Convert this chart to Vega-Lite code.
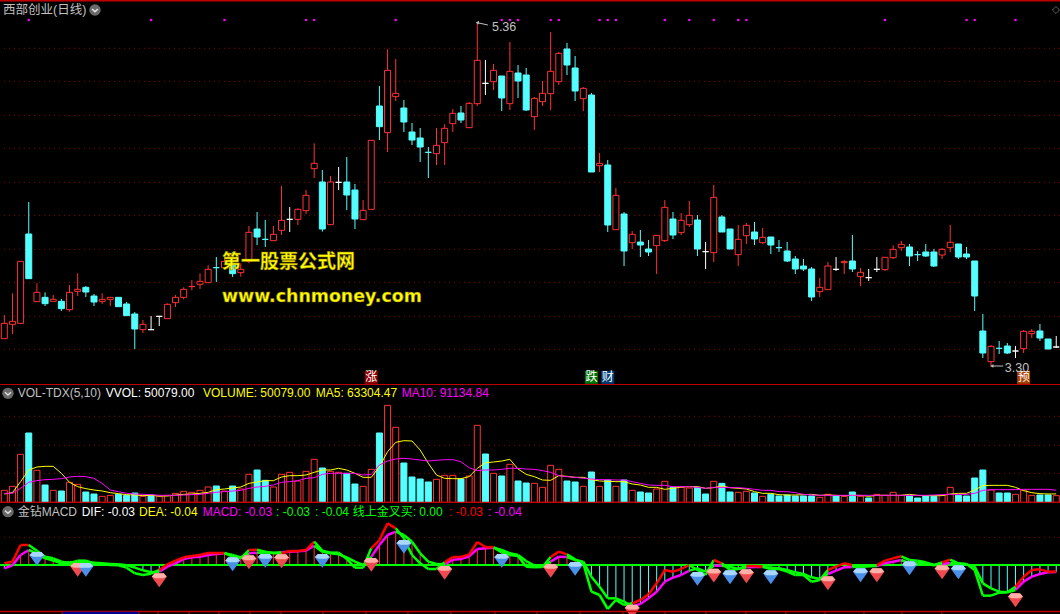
{"$schema":"https://vega.github.io/schema/vega-lite/v6.json","background":"#000000","padding":0,"autosize":{"type":"pad"},"bounds":"flush","spacing":0,"config":{"view":{"stroke":null},"concat":{"spacing":0}},
"datasets":{"bars":[
{"i":0,"k":"up","open":3.468,"close":3.56,"high":3.61,"low":3.468,"vol":90000,"vk":"up","m5":62500,"m10":67500,"dif":0.01,"dea":-0.02,"bull":1},
{"i":1,"k":"up","open":3.554,"close":3.572,"high":3.74,"low":3.496,"vol":120000,"vk":"up","m5":72500,"m10":67500,"dif":0.02,"dea":-0.002,"bull":1},
{"i":2,"k":"up","open":3.56,"close":3.932,"high":3.932,"low":3.56,"vol":360000,"vk":"up","m5":155000,"m10":105000,"dif":0.12,"dea":0.06,"bull":1},
{"i":3,"k":"down","open":4.096,"close":3.828,"high":4.288,"low":3.828,"vol":520000,"vk":"down","m5":242500,"m10":150000,"dif":0.12,"dea":0.09,"bull":0},
{"i":4,"k":"up","open":3.69,"close":3.746,"high":3.8,"low":3.69,"vol":240000,"vk":"up","m5":265000,"m10":162500,"dif":0.086,"dea":0.07,"bull":0},
{"i":5,"k":"down","open":3.716,"close":3.678,"high":3.746,"low":3.664,"vol":130000,"vk":"down","m5":270000,"m10":170000,"dif":0.05,"dea":0.04,"bull":0},
{"i":6,"k":"up","open":3.692,"close":3.704,"high":3.73,"low":3.692,"vol":90000,"vk":"up","m5":270000,"m10":172500,"dif":0.04,"dea":0.026,"bull":0},
{"i":7,"k":"down","open":3.692,"close":3.648,"high":3.706,"low":3.634,"vol":85000,"vk":"down","m5":217500,"m10":177500,"dif":0.02,"dea":0.01,"bull":0},
{"i":8,"k":"up","open":3.642,"close":3.746,"high":3.79,"low":3.63,"vol":150000,"vk":"up","m5":150000,"m10":190000,"dif":0.01,"dea":0.016,"bull":0},
{"i":9,"k":"up","open":3.752,"close":3.764,"high":3.86,"low":3.724,"vol":135000,"vk":"up","m5":117500,"m10":195000,"dif":0.026,"dea":0.018,"bull":0},
{"i":10,"k":"down","open":3.776,"close":3.748,"high":3.784,"low":3.718,"vol":77500,"vk":"down","m5":102500,"m10":192500,"dif":0.026,"dea":0.02,"bull":0},
{"i":11,"k":"down","open":3.724,"close":3.688,"high":3.736,"low":3.664,"vol":62500,"vk":"down","m5":92500,"m10":180000,"dif":0.01,"dea":0.014,"bull":0},
{"i":12,"k":"up","open":3.692,"close":3.704,"high":3.74,"low":3.676,"vol":45000,"vk":"up","m5":85000,"m10":142500,"dif":0.004,"dea":0.01,"bull":0},
{"i":13,"k":"up","open":3.704,"close":3.716,"high":3.716,"low":3.664,"vol":52500,"vk":"up","m5":72500,"m10":92500,"dif":0,"dea":0.006,"bull":0},
{"i":14,"k":"down","open":3.716,"close":3.66,"high":3.716,"low":3.66,"vol":60000,"vk":"down","m5":65000,"m10":80000,"dif":-0.002,"dea":0.004,"bull":0},
{"i":15,"k":"down","open":3.676,"close":3.606,"high":3.688,"low":3.606,"vol":52500,"vk":"down","m5":57500,"m10":67500,"dif":-0.016,"dea":-0.002,"bull":0},
{"i":16,"k":"down","open":3.616,"close":3.526,"high":3.628,"low":3.406,"vol":70000,"vk":"down","m5":55000,"m10":62500,"dif":-0.05,"dea":-0.016,"bull":0},
{"i":17,"k":"up","open":3.522,"close":3.554,"high":3.58,"low":3.502,"vol":45000,"vk":"up","m5":50000,"m10":60000,"dif":-0.06,"dea":-0.032,"bull":0},
{"i":18,"k":"flat","open":3.522,"close":3.522,"high":3.604,"low":3.522,"vol":55000,"vk":"down","m5":52500,"m10":57500,"dif":-0.052,"dea":-0.044,"bull":0},
{"i":19,"k":"flat","open":3.602,"close":3.602,"high":3.602,"low":3.544,"vol":45000,"vk":"up","m5":47500,"m10":52500,"dif":-0.03,"dea":-0.04,"bull":1},
{"i":20,"k":"up","open":3.588,"close":3.674,"high":3.68,"low":3.588,"vol":52500,"vk":"up","m5":47500,"m10":52500,"dif":0.004,"dea":-0.01,"bull":1},
{"i":21,"k":"up","open":3.684,"close":3.716,"high":3.73,"low":3.658,"vol":67500,"vk":"up","m5":55000,"m10":52500,"dif":0.026,"dea":0.01,"bull":1},
{"i":22,"k":"up","open":3.716,"close":3.764,"high":3.776,"low":3.704,"vol":82500,"vk":"up","m5":60000,"m10":55000,"dif":0.046,"dea":0.036,"bull":1},
{"i":23,"k":"up","open":3.78,"close":3.782,"high":3.82,"low":3.758,"vol":75000,"vk":"up","m5":62500,"m10":57500,"dif":0.054,"dea":0.046,"bull":1},
{"i":24,"k":"up","open":3.794,"close":3.812,"high":3.86,"low":3.766,"vol":90000,"vk":"up","m5":67500,"m10":60000,"dif":0.06,"dea":0.05,"bull":1},
{"i":25,"k":"up","open":3.804,"close":3.884,"high":3.908,"low":3.804,"vol":115000,"vk":"up","m5":75000,"m10":67500,"dif":0.072,"dea":0.06,"bull":1},
{"i":26,"k":"down","open":3.894,"close":3.894,"high":3.958,"low":3.808,"vol":122500,"vk":"down","m5":95000,"m10":75000,"dif":0.072,"dea":0.066,"bull":1},
{"i":27,"k":"up","open":3.894,"close":3.932,"high":3.96,"low":3.894,"vol":85000,"vk":"up","m5":100000,"m10":80000,"dif":0.072,"dea":0.07,"bull":0},
{"i":28,"k":"down","open":3.92,"close":3.858,"high":3.988,"low":3.838,"vol":122500,"vk":"down","m5":107500,"m10":85000,"dif":0.05,"dea":0.06,"bull":0},
{"i":29,"k":"up","open":3.864,"close":3.884,"high":3.92,"low":3.84,"vol":100000,"vk":"up","m5":115000,"m10":90000,"dif":0.04,"dea":0.046,"bull":0},
{"i":30,"k":"up","open":3.932,"close":4.106,"high":4.144,"low":3.92,"vol":210000,"vk":"up","m5":142500,"m10":105000,"dif":0.09,"dea":0.07,"bull":1},
{"i":31,"k":"down","open":4.126,"close":4.078,"high":4.228,"low":4.03,"vol":242500,"vk":"down","m5":152500,"m10":115000,"dif":0.092,"dea":0.074,"bull":0},
{"i":32,"k":"down","open":4.064,"close":4.064,"high":4.18,"low":4.018,"vol":165000,"vk":"down","m5":162500,"m10":120000,"dif":0.08,"dea":0.074,"bull":0},
{"i":33,"k":"up","open":4.056,"close":4.094,"high":4.144,"low":4.056,"vol":115000,"vk":"up","m5":162500,"m10":130000,"dif":0.07,"dea":0.074,"bull":0},
{"i":34,"k":"up","open":4.118,"close":4.178,"high":4.384,"low":4.09,"vol":210000,"vk":"up","m5":190000,"m10":150000,"dif":0.07,"dea":0.076,"bull":1},
{"i":35,"k":"flat","open":4.184,"close":4.184,"high":4.258,"low":4.108,"vol":225000,"vk":"up","m5":200000,"m10":155000,"dif":0.084,"dea":0.08,"bull":1},
{"i":36,"k":"up","open":4.184,"close":4.244,"high":4.25,"low":4.15,"vol":160000,"vk":"up","m5":200000,"m10":162500,"dif":0.084,"dea":0.082,"bull":1},
{"i":37,"k":"up","open":4.236,"close":4.328,"high":4.36,"low":4.216,"vol":232500,"vk":"up","m5":205000,"m10":180000,"dif":0.09,"dea":0.086,"bull":1},
{"i":38,"k":"up","open":4.488,"close":4.52,"high":4.64,"low":4.432,"vol":322500,"vk":"up","m5":225000,"m10":185000,"dif":0.14,"dea":0.116,"bull":0},
{"i":39,"k":"down","open":4.408,"close":4.126,"high":4.48,"low":4.11,"vol":257500,"vk":"down","m5":242500,"m10":210000,"dif":0.086,"dea":0.08,"bull":0},
{"i":40,"k":"up","open":4.152,"close":4.408,"high":4.444,"low":4.152,"vol":232500,"vk":"up","m5":242500,"m10":217500,"dif":0.074,"dea":0.07,"bull":0},
{"i":41,"k":"flat","open":4.406,"close":4.406,"high":4.498,"low":4.36,"vol":225000,"vk":"up","m5":255000,"m10":217500,"dif":0.074,"dea":0.064,"bull":0},
{"i":42,"k":"down","open":4.408,"close":4.33,"high":4.558,"low":4.24,"vol":217500,"vk":"down","m5":242500,"m10":217500,"dif":0.036,"dea":0.046,"bull":0},
{"i":43,"k":"down","open":4.36,"close":4.186,"high":4.396,"low":4.126,"vol":137500,"vk":"down","m5":217500,"m10":217500,"dif":-0.016,"dea":0.02,"bull":0},
{"i":44,"k":"up","open":4.182,"close":4.238,"high":4.3,"low":4.182,"vol":120000,"vk":"up","m5":187500,"m10":205000,"dif":-0.016,"dea":0,"bull":0},
{"i":45,"k":"up","open":4.244,"close":4.658,"high":4.658,"low":4.244,"vol":247500,"vk":"up","m5":187500,"m10":210000,"dif":0.1,"dea":0.05,"bull":1},
{"i":46,"k":"down","open":4.864,"close":4.74,"high":4.984,"low":4.66,"vol":520000,"vk":"down","m5":267500,"m10":280000,"dif":0.15,"dea":0.12,"bull":1},
{"i":47,"k":"up","open":4.704,"close":5.078,"high":5.204,"low":4.588,"vol":727500,"vk":"up","m5":380000,"m10":310000,"dif":0.25,"dea":0.18,"bull":1},
{"i":48,"k":"up","open":4.92,"close":4.94,"high":5.146,"low":4.894,"vol":562500,"vk":"up","m5":450000,"m10":325000,"dif":0.22,"dea":0.2,"bull":0},
{"i":49,"k":"down","open":4.852,"close":4.768,"high":4.9,"low":4.708,"vol":295000,"vk":"down","m5":462500,"m10":330000,"dif":0.16,"dea":0.18,"bull":0},
{"i":50,"k":"down","open":4.708,"close":4.66,"high":4.762,"low":4.63,"vol":190000,"vk":"down","m5":460000,"m10":325000,"dif":0.06,"dea":0.14,"bull":0},
{"i":51,"k":"down","open":4.672,"close":4.618,"high":4.732,"low":4.528,"vol":175000,"vk":"down","m5":392500,"m10":317500,"dif":0.01,"dea":0.07,"bull":0},
{"i":52,"k":"down","open":4.586,"close":4.586,"high":4.618,"low":4.432,"vol":152500,"vk":"down","m5":292500,"m10":310000,"dif":-0.024,"dea":0.02,"bull":0},
{"i":53,"k":"up","open":4.578,"close":4.628,"high":4.732,"low":4.51,"vol":172500,"vk":"up","m5":205000,"m10":315000,"dif":-0.024,"dea":0.006,"bull":0},
{"i":54,"k":"up","open":4.644,"close":4.73,"high":4.756,"low":4.51,"vol":202500,"vk":"up","m5":180000,"m10":320000,"dif":0.016,"dea":0.004,"bull":1},
{"i":55,"k":"up","open":4.758,"close":4.82,"high":4.846,"low":4.708,"vol":202500,"vk":"up","m5":177500,"m10":320000,"dif":0.048,"dea":0.032,"bull":1},
{"i":56,"k":"down","open":4.822,"close":4.78,"high":4.864,"low":4.762,"vol":175000,"vk":"down","m5":177500,"m10":305000,"dif":0.048,"dea":0.036,"bull":1},
{"i":57,"k":"up","open":4.734,"close":4.88,"high":4.888,"low":4.734,"vol":197500,"vk":"up","m5":192500,"m10":260000,"dif":0.064,"dea":0.052,"bull":1},
{"i":58,"k":"up","open":4.878,"close":5.138,"high":5.36,"low":4.864,"vol":577500,"vk":"up","m5":255000,"m10":237500,"dif":0.138,"dea":0.096,"bull":1},
{"i":59,"k":"flat","open":5,"close":5,"high":5.14,"low":4.93,"vol":362500,"vk":"down","m5":297500,"m10":242500,"dif":0.108,"dea":0.1,"bull":1},
{"i":60,"k":"up","open":5.01,"close":5.078,"high":5.116,"low":4.96,"vol":217500,"vk":"up","m5":302500,"m10":242500,"dif":0.106,"dea":0.104,"bull":0},
{"i":61,"k":"down","open":5.044,"close":4.912,"high":5.044,"low":4.834,"vol":197500,"vk":"down","m5":310000,"m10":247500,"dif":0.076,"dea":0.09,"bull":0},
{"i":62,"k":"up","open":4.878,"close":5.072,"high":5.248,"low":4.84,"vol":285000,"vk":"up","m5":322500,"m10":255000,"dif":0.06,"dea":0.07,"bull":0},
{"i":63,"k":"down","open":5.062,"close":5.014,"high":5.11,"low":4.912,"vol":160000,"vk":"down","m5":250000,"m10":255000,"dif":0.054,"dea":0.06,"bull":0},
{"i":64,"k":"down","open":5.05,"close":4.84,"high":5.092,"low":4.834,"vol":145000,"vk":"down","m5":210000,"m10":250000,"dif":-0.01,"dea":0.024,"bull":0},
{"i":65,"k":"up","open":4.8,"close":4.91,"high":4.918,"low":4.72,"vol":142500,"vk":"up","m5":192500,"m10":247500,"dif":-0.014,"dea":-0.004,"bull":0},
{"i":66,"k":"up","open":4.89,"close":4.94,"high":5.014,"low":4.864,"vol":112500,"vk":"up","m5":167500,"m10":237500,"dif":-0.012,"dea":-0.01,"bull":0},
{"i":67,"k":"up","open":4.938,"close":5.072,"high":5.308,"low":4.84,"vol":277500,"vk":"up","m5":165000,"m10":225000,"dif":0.048,"dea":0.02,"bull":1},
{"i":68,"k":"up","open":5.01,"close":5.18,"high":5.188,"low":4.99,"vol":247500,"vk":"up","m5":200000,"m10":200000,"dif":0.08,"dea":0.05,"bull":1},
{"i":69,"k":"down","open":5.206,"close":5.11,"high":5.242,"low":5.05,"vol":160000,"vk":"down","m5":195000,"m10":192500,"dif":0.064,"dea":0.048,"bull":0},
{"i":70,"k":"down","open":5.092,"close":4.954,"high":5.164,"low":4.894,"vol":152500,"vk":"down","m5":187500,"m10":187500,"dif":0.034,"dea":0.03,"bull":0},
{"i":71,"k":"up","open":4.908,"close":4.97,"high":4.978,"low":4.834,"vol":120000,"vk":"up","m5":187500,"m10":180000,"dif":0.01,"dea":0.02,"bull":0},
{"i":72,"k":"down","open":4.93,"close":4.468,"high":4.942,"low":4.468,"vol":227500,"vk":"down","m5":170000,"m10":175000,"dif":-0.16,"dea":-0.07,"bull":0},
{"i":73,"k":"up","open":4.506,"close":4.52,"high":4.582,"low":4.468,"vol":120000,"vk":"up","m5":160000,"m10":170000,"dif":-0.18,"dea":-0.13,"bull":0},
{"i":74,"k":"down","open":4.51,"close":4.15,"high":4.54,"low":4.108,"vol":167500,"vk":"down","m5":157500,"m10":170000,"dif":-0.264,"dea":-0.2,"bull":0},
{"i":75,"k":"up","open":4.122,"close":4.328,"high":4.372,"low":4.122,"vol":120000,"vk":"up","m5":155000,"m10":167500,"dif":-0.21,"dea":-0.2,"bull":0},
{"i":76,"k":"down","open":4.216,"close":3.994,"high":4.228,"low":3.904,"vol":167500,"vk":"down","m5":155000,"m10":167500,"dif":-0.24,"dea":-0.22,"bull":0},
{"i":77,"k":"up","open":4.044,"close":4.094,"high":4.114,"low":4.006,"vol":90000,"vk":"up","m5":137500,"m10":155000,"dif":-0.23,"dea":-0.25,"bull":1},
{"i":78,"k":"down","open":4.048,"close":4.03,"high":4.12,"low":3.958,"vol":77500,"vk":"down","m5":130000,"m10":142500,"dif":-0.21,"dea":-0.234,"bull":1},
{"i":79,"k":"down","open":4.006,"close":3.988,"high":4.06,"low":3.964,"vol":70000,"vk":"down","m5":112500,"m10":130000,"dif":-0.176,"dea":-0.2,"bull":1},
{"i":80,"k":"up","open":4.026,"close":4.088,"high":4.09,"low":3.856,"vol":100000,"vk":"up","m5":112500,"m10":127500,"dif":-0.11,"dea":-0.16,"bull":1},
{"i":81,"k":"up","open":4.056,"close":4.256,"high":4.3,"low":4.048,"vol":157500,"vk":"up","m5":97500,"m10":127500,"dif":-0.03,"dea":-0.1,"bull":1},
{"i":82,"k":"down","open":4.186,"close":4.09,"high":4.228,"low":4.066,"vol":112500,"vk":"down","m5":105000,"m10":117500,"dif":-0.04,"dea":-0.076,"bull":1},
{"i":83,"k":"up","open":4.104,"close":4.178,"high":4.222,"low":4.09,"vol":112500,"vk":"up","m5":115000,"m10":117500,"dif":-0.024,"dea":-0.06,"bull":1},
{"i":84,"k":"up","open":4.152,"close":4.208,"high":4.294,"low":4.138,"vol":107500,"vk":"up","m5":117500,"m10":117500,"dif":0,"dea":-0.034,"bull":0},
{"i":85,"k":"down","open":4.18,"close":4.006,"high":4.21,"low":3.964,"vol":112500,"vk":"down","m5":117500,"m10":112500,"dif":-0.03,"dea":-0.02,"bull":0},
{"i":86,"k":"flat","open":3.99,"close":3.99,"high":4.048,"low":3.886,"vol":62500,"vk":"down","m5":105000,"m10":105000,"dif":-0.06,"dea":-0.04,"bull":0},
{"i":87,"k":"up","open":3.984,"close":4.316,"high":4.39,"low":3.928,"vol":157500,"vk":"up","m5":110000,"m10":112500,"dif":0.03,"dea":-0.004,"bull":1},
{"i":88,"k":"down","open":4.198,"close":4.108,"high":4.21,"low":4.108,"vol":142500,"vk":"down","m5":122500,"m10":112500,"dif":0.01,"dea":-0.004,"bull":0},
{"i":89,"k":"down","open":4.126,"close":4.006,"high":4.126,"low":4.006,"vol":77500,"vk":"down","m5":110000,"m10":110000,"dif":-0.03,"dea":-0.01,"bull":0},
{"i":90,"k":"up","open":3.972,"close":4.064,"high":4.15,"low":3.904,"vol":75000,"vk":"up","m5":105000,"m10":110000,"dif":-0.024,"dea":-0.024,"bull":0},
{"i":91,"k":"up","open":4.086,"close":4.148,"high":4.162,"low":4.036,"vol":82500,"vk":"up","m5":100000,"m10":105000,"dif":-0.006,"dea":-0.014,"bull":1},
{"i":92,"k":"down","open":4.108,"close":4.066,"high":4.168,"low":4.03,"vol":70000,"vk":"down","m5":80000,"m10":97500,"dif":-0.006,"dea":-0.012,"bull":1},
{"i":93,"k":"up","open":4.044,"close":4.076,"high":4.132,"low":4.036,"vol":45000,"vk":"up","m5":67500,"m10":90000,"dif":-0.01,"dea":-0.012,"bull":0},
{"i":94,"k":"down","open":4.078,"close":4.03,"high":4.078,"low":3.976,"vol":60000,"vk":"down","m5":67500,"m10":90000,"dif":-0.026,"dea":-0.016,"bull":0},
{"i":95,"k":"down","open":4.014,"close":4.014,"high":4.06,"low":3.988,"vol":47500,"vk":"down","m5":57500,"m10":80000,"dif":-0.024,"dea":-0.02,"bull":0},
{"i":96,"k":"down","open":3.994,"close":3.934,"high":4.048,"low":3.928,"vol":55000,"vk":"down","m5":55000,"m10":80000,"dif":-0.04,"dea":-0.03,"bull":0},
{"i":97,"k":"down","open":3.946,"close":3.886,"high":3.964,"low":3.856,"vol":47500,"vk":"down","m5":55000,"m10":72500,"dif":-0.06,"dea":-0.044,"bull":0},
{"i":98,"k":"down","open":3.904,"close":3.886,"high":3.946,"low":3.874,"vol":47500,"vk":"down","m5":57500,"m10":60000,"dif":-0.06,"dea":-0.054,"bull":0},
{"i":99,"k":"down","open":3.886,"close":3.718,"high":3.898,"low":3.694,"vol":47500,"vk":"down","m5":60000,"m10":55000,"dif":-0.1,"dea":-0.074,"bull":0},
{"i":100,"k":"up","open":3.75,"close":3.776,"high":3.832,"low":3.718,"vol":37500,"vk":"up","m5":52500,"m10":52500,"dif":-0.09,"dea":-0.084,"bull":0},
{"i":101,"k":"up","open":3.762,"close":3.904,"high":3.928,"low":3.762,"vol":60000,"vk":"up","m5":55000,"m10":52500,"dif":-0.03,"dea":-0.054,"bull":1},
{"i":102,"k":"flat","open":3.884,"close":3.884,"high":3.958,"low":3.874,"vol":47500,"vk":"down","m5":52500,"m10":52500,"dif":-0.01,"dea":-0.034,"bull":1},
{"i":103,"k":"up","open":3.924,"close":3.93,"high":3.94,"low":3.856,"vol":45000,"vk":"up","m5":50000,"m10":52500,"dif":0.01,"dea":-0.014,"bull":1},
{"i":104,"k":"down","open":3.934,"close":3.886,"high":4.09,"low":3.868,"vol":77500,"vk":"down","m5":52500,"m10":52500,"dif":-0.002,"dea":-0.012,"bull":0},
{"i":105,"k":"up","open":3.84,"close":3.866,"high":3.892,"low":3.784,"vol":45000,"vk":"up","m5":52500,"m10":52500,"dif":-0.01,"dea":-0.008,"bull":0},
{"i":106,"k":"flat","open":3.834,"close":3.834,"high":3.886,"low":3.814,"vol":32500,"vk":"down","m5":45000,"m10":52500,"dif":-0.006,"dea":-0.008,"bull":0},
{"i":107,"k":"flat","open":3.884,"close":3.884,"high":3.958,"low":3.868,"vol":60000,"vk":"up","m5":52500,"m10":52500,"dif":-0.002,"dea":-0.006,"bull":1},
{"i":108,"k":"up","open":3.882,"close":3.956,"high":3.958,"low":3.874,"vol":52500,"vk":"up","m5":52500,"m10":52500,"dif":0.026,"dea":0.01,"bull":1},
{"i":109,"k":"up","open":3.954,"close":4.004,"high":4.028,"low":3.946,"vol":75000,"vk":"up","m5":52500,"m10":52500,"dif":0.04,"dea":0.02,"bull":1},
{"i":110,"k":"up","open":4.014,"close":4.034,"high":4.054,"low":3.994,"vol":52500,"vk":"up","m5":52500,"m10":52500,"dif":0.052,"dea":0.03,"bull":0},
{"i":111,"k":"down","open":4.018,"close":3.964,"high":4.036,"low":3.904,"vol":47500,"vk":"down","m5":60000,"m10":52500,"dif":0.03,"dea":0.01,"bull":0},
{"i":112,"k":"down","open":3.972,"close":3.972,"high":3.994,"low":3.934,"vol":32500,"vk":"down","m5":52500,"m10":52500,"dif":0.026,"dea":0.014,"bull":0},
{"i":113,"k":"down","open":3.988,"close":3.964,"high":4.036,"low":3.958,"vol":47500,"vk":"down","m5":50000,"m10":52500,"dif":0.016,"dea":0.008,"bull":0},
{"i":114,"k":"down","open":3.988,"close":3.904,"high":4.006,"low":3.898,"vol":45000,"vk":"down","m5":50000,"m10":55000,"dif":0,"dea":-0.002,"bull":0},
{"i":115,"k":"up","open":3.97,"close":4.004,"high":4.012,"low":3.946,"vol":52500,"vk":"up","m5":50000,"m10":57500,"dif":0.016,"dea":0.006,"bull":1},
{"i":116,"k":"up","open":4.014,"close":4.046,"high":4.15,"low":3.988,"vol":112500,"vk":"up","m5":62500,"m10":60000,"dif":0.032,"dea":0.012,"bull":0},
{"i":117,"k":"down","open":4.036,"close":3.958,"high":4.036,"low":3.946,"vol":52500,"vk":"down","m5":67500,"m10":60000,"dif":0.01,"dea":0.006,"bull":0},
{"i":118,"k":"down","open":3.976,"close":3.958,"high":4.018,"low":3.946,"vol":47500,"vk":"down","m5":67500,"m10":60000,"dif":0.006,"dea":0.004,"bull":0},
{"i":119,"k":"down","open":3.934,"close":3.724,"high":3.934,"low":3.634,"vol":182500,"vk":"down","m5":92500,"m10":67500,"dif":-0.03,"dea":-0.01,"bull":0},
{"i":120,"k":"down","open":3.514,"close":3.382,"high":3.616,"low":3.352,"vol":242500,"vk":"down","m5":125000,"m10":90000,"dif":-0.184,"dea":-0.11,"bull":0},
{"i":121,"k":"up","open":3.33,"close":3.422,"high":3.43,"low":3.3,"vol":92500,"vk":"up","m5":127500,"m10":95000,"dif":-0.184,"dea":-0.14,"bull":0},
{"i":122,"k":"down","open":3.41,"close":3.41,"high":3.454,"low":3.376,"vol":70000,"vk":"down","m5":127500,"m10":95000,"dif":-0.166,"dea":-0.16,"bull":0},
{"i":123,"k":"down","open":3.424,"close":3.382,"high":3.442,"low":3.376,"vol":70000,"vk":"down","m5":127500,"m10":95000,"dif":-0.164,"dea":-0.164,"bull":0},
{"i":124,"k":"flat","open":3.394,"close":3.394,"high":3.424,"low":3.352,"vol":60000,"vk":"up","m5":112500,"m10":95000,"dif":-0.13,"dea":-0.15,"bull":1},
{"i":125,"k":"up","open":3.408,"close":3.512,"high":3.52,"low":3.382,"vol":92500,"vk":"up","m5":87500,"m10":97500,"dif":-0.07,"dea":-0.1,"bull":1},
{"i":126,"k":"up","open":3.498,"close":3.512,"high":3.526,"low":3.472,"vol":52500,"vk":"up","m5":72500,"m10":97500,"dif":-0.03,"dea":-0.07,"bull":1},
{"i":127,"k":"down","open":3.514,"close":3.472,"high":3.556,"low":3.454,"vol":55000,"vk":"down","m5":65000,"m10":97500,"dif":-0.026,"dea":-0.054,"bull":1},
{"i":128,"k":"down","open":3.466,"close":3.406,"high":3.466,"low":3.406,"vol":55000,"vk":"down","m5":62500,"m10":97500,"dif":-0.04,"dea":-0.044,"bull":1},
{"i":129,"k":"flat","open":3.418,"close":3.418,"high":3.484,"low":3.412,"vol":50079,"vk":"up","m5":63304,"m10":91135,"dif":-0.04,"dea":-0.042,"bull":1}
],
"grid1":[{"p":5.21},{"p":5.012},{"p":4.808},{"p":4.61},{"p":4.406},{"p":4.208},{"p":4.004},{"p":3.806},{"p":3.602},{"p":3.404}],
"grid2":[{"v":645000},{"v":427500},{"v":217500}],
"dots":[{"i":3},{"i":18},{"i":27},{"i":37},{"i":38},{"i":48},{"i":61},{"i":62},{"i":63},{"i":67},{"i":68},{"i":73},{"i":74},{"i":75},{"i":81},{"i":84},{"i":87},{"i":90},{"i":91},{"i":108},{"i":118},{"i":119},{"i":124}],
"tags":[{"i":45,"t":"涨","kind":"rise"},{"i":72,"t":"跌","kind":"fall"},{"i":74,"t":"财","kind":"cash"},{"i":125,"t":"预","kind":"warn"}],
"notes1":[{"i":-0.16,"p":5.44,"t":"西部创业(日线)","c":"gray"},{"i":59.8,"p":5.34,"t":"5.36","c":"gray"},{"i":122.7,"p":3.294,"t":"3.30","c":"gray"}],
"marks1":[{"i":58,"i2":59.3,"a":5.364,"b":5.35},{"i":121.1,"i2":122.5,"a":3.304,"b":3.304}],
"notes2":[{"i":1.64,"t":"VOL-TDX(5,10)","c":"gray"},{"i":12.43,"t":"VVOL: 50079.00","c":"white"},{"i":24.37,"t":"VOLUME: 50079.00","c":"yellow"},{"i":38.19,"t":"MA5: 63304.47","c":"yellow"},{"i":48.73,"t":"MA10: 91134.84","c":"magenta"}],
"notes3":[{"i":1.64,"t":"金钻MACD","c":"gray"},{"i":9.49,"t":"DIF: -0.03","c":"white"},{"i":16.52,"t":"DEA: -0.04","c":"yellow"},{"i":24.33,"t":"MACD: -0.03","c":"magenta"},{"i":33.32,"t":": -0.03","c":"green"},{"i":38.1,"t":": -0.04","c":"green"},{"i":42.72,"t":"线上金叉买: 0.00","c":"green"},{"i":54.53,"t":": -0.03","c":"red"},{"i":59.31,"t":": -0.04","c":"magenta"}],
"gems":[{"i":4,"m":0.04,"kind":"blue"},{"i":9,"m":-0.026,"kind":"red"},{"i":10,"m":-0.026,"kind":"blue"},{"i":19,"m":-0.088,"kind":"red"},{"i":28,"m":0.008,"kind":"blue"},{"i":30,"m":0.02,"kind":"red"},{"i":32,"m":0.028,"kind":"blue"},{"i":34,"m":0.026,"kind":"red"},{"i":39,"m":0.028,"kind":"blue"},{"i":45,"m":0.004,"kind":"red"},{"i":49,"m":0.112,"kind":"blue"},{"i":54,"m":-0.044,"kind":"red"},{"i":61,"m":0.028,"kind":"blue"},{"i":67,"m":-0.032,"kind":"red"},{"i":70,"m":-0.02,"kind":"blue"},{"i":77,"m":-0.276,"kind":"red"},{"i":85,"m":-0.08,"kind":"blue"},{"i":87,"m":-0.06,"kind":"red"},{"i":89,"m":-0.07,"kind":"blue"},{"i":91,"m":-0.064,"kind":"red"},{"i":94,"m":-0.07,"kind":"blue"},{"i":101,"m":-0.106,"kind":"red"},{"i":105,"m":-0.058,"kind":"blue"},{"i":107,"m":-0.058,"kind":"red"},{"i":111,"m":-0.016,"kind":"blue"},{"i":115,"m":-0.04,"kind":"red"},{"i":117,"m":-0.04,"kind":"blue"},{"i":124,"m":-0.208,"kind":"red"}],
"ticks":[{"i":7.08},{"i":16.52},{"i":18.85},{"i":22.65},{"i":26.33},{"i":30.13},{"i":33.93},{"i":39.08},{"i":44.35},{"i":49.5},{"i":54.78},{"i":60.17},{"i":65.32},{"i":70.6},{"i":75.87},{"i":81.02},{"i":86.05},{"i":90.95},{"i":95.85},{"i":100.64},{"i":105.42},{"i":110.08},{"i":114.98}]
},
"vconcat":[
{"width":1060,"height":385,"resolve":{"scale":{"color":"independent","fill":"independent","stroke":"independent"}},"layer":[
{"data":{"name":"grid1"},"mark":{"type":"rule","clip":true,"color":"#8a0000","strokeDash":[1,4],"strokeWidth":1},"encoding":{"y":{"field":"p","type":"quantitative","scale":{"domain":[3.19,5.5],"nice":false,"zero":false},"axis":null}}},
{"data":{"values":[{"p":5.497}]},"mark":{"type":"rule","clip":true,"color":"#c00000","strokeWidth":2},"encoding":{"y":{"field":"p","type":"quantitative","scale":{"domain":[3.19,5.5],"nice":false,"zero":false},"axis":null}}},
{"data":{"values":[{"p":3.193}]},"mark":{"type":"rule","clip":true,"color":"#c00000","strokeWidth":1},"encoding":{"y":{"field":"p","type":"quantitative","scale":{"domain":[3.19,5.5],"nice":false,"zero":false},"axis":null}}},
{"data":{"name":"bars"},"mark":{"type":"rule","strokeWidth":1,"clip":true},"encoding":{"x":{"field":"i","type":"quantitative","scale":{"domain":[-0.527,129.46],"nice":false,"zero":false,"padding":0},"axis":null},"y":{"field":"high","type":"quantitative","scale":{"domain":[3.19,5.5],"nice":false,"zero":false},"axis":null},"y2":{"field":"low"},"color":{"field":"k","type":"nominal","legend":null,"scale":{"domain":["up","down","flat"],"range":["#ff3232","#54ffff","#ffffff"]}}}},
{"data":{"name":"bars"},"mark":{"type":"bar","size":6,"strokeWidth":1,"clip":true},"encoding":{"x":{"field":"i","type":"quantitative","scale":{"domain":[-0.527,129.46],"nice":false,"zero":false,"padding":0},"axis":null},"y":{"field":"open","type":"quantitative","scale":{"domain":[3.19,5.5],"nice":false,"zero":false},"axis":null},"y2":{"field":"close"},"fill":{"field":"k","type":"nominal","legend":null,"scale":{"domain":["up","down","flat"],"range":["#000000","#54ffff","#ffffff"]}},"stroke":{"field":"k","type":"nominal","legend":null,"scale":{"domain":["up","down","flat"],"range":["#ff3232","#54ffff","#ffffff"]}}}},
{"data":{"name":"dots"},"mark":{"type":"square","clip":true,"color":"#ff00ff","size":5,"opacity":1},"encoding":{"x":{"field":"i","type":"quantitative","scale":{"domain":[-0.527,129.46],"nice":false,"zero":false,"padding":0},"axis":null},"y":{"datum":5.38,"type":"quantitative","scale":{"domain":[3.19,5.5],"nice":false,"zero":false},"axis":null}}},
{"data":{"name":"marks1"},"mark":{"type":"rule","clip":true,"color":"#c0c0c0","strokeWidth":1},"encoding":{"x":{"field":"i","type":"quantitative","scale":{"domain":[-0.527,129.46],"nice":false,"zero":false,"padding":0},"axis":null},"x2":{"field":"i2"},"y":{"field":"a","type":"quantitative","scale":{"domain":[3.19,5.5],"nice":false,"zero":false},"axis":null},"y2":{"field":"b"}}},
{"data":{"name":"marks1"},"mark":{"type":"point","shape":"triangle-left","filled":true,"clip":true,"color":"#c0c0c0","size":14,"opacity":1},"encoding":{"x":{"field":"i","type":"quantitative","scale":{"domain":[-0.527,129.46],"nice":false,"zero":false,"padding":0},"axis":null},"y":{"field":"a","type":"quantitative","scale":{"domain":[3.19,5.5],"nice":false,"zero":false},"axis":null}}},
{"data":{"name":"tags"},"mark":{"type":"square","clip":true,"size":169,"opacity":1},"encoding":{"x":{"field":"i","type":"quantitative","scale":{"domain":[-0.527,129.46],"nice":false,"zero":false,"padding":0},"axis":null},"y":{"datum":3.236,"type":"quantitative","scale":{"domain":[3.19,5.5],"nice":false,"zero":false},"axis":null},"color":{"field":"kind","type":"nominal","legend":null,"scale":{"domain":["rise","fall","cash","warn"],"range":["#8b0000","#007000","#003c78","#a84000"]}}}},
{"data":{"name":"tags"},"mark":{"type":"text","clip":true,"font":"Noto Sans CJK SC","fontSize":12,"color":"#ffffff","align":"center","baseline":"middle"},"encoding":{"x":{"field":"i","type":"quantitative","scale":{"domain":[-0.527,129.46],"nice":false,"zero":false,"padding":0},"axis":null},"y":{"datum":3.236,"type":"quantitative","scale":{"domain":[3.19,5.5],"nice":false,"zero":false},"axis":null},"text":{"field":"t"}}},
{"data":{"name":"notes1"},"mark":{"type":"text","clip":true,"font":"Liberation Sans, Noto Sans CJK SC","fontSize":12.5,"color":"#c0c0c0","align":"left","baseline":"middle"},"encoding":{"x":{"field":"i","type":"quantitative","scale":{"domain":[-0.527,129.46],"nice":false,"zero":false,"padding":0},"axis":null},"y":{"field":"p","type":"quantitative","scale":{"domain":[3.19,5.5],"nice":false,"zero":false},"axis":null},"text":{"field":"t"}}},
{"data":{"values":[{"i":26.7,"p":3.928,"t":"第一股票公式网"}]},"mark":{"type":"text","clip":true,"font":"Noto Sans CJK SC","fontSize":19,"fontWeight":"bold","color":"#ffff00","stroke":"#8a7000","strokeWidth":0.5,"align":"left","baseline":"middle"},"encoding":{"x":{"field":"i","type":"quantitative","scale":{"domain":[-0.527,129.46],"nice":false,"zero":false,"padding":0},"axis":null},"y":{"field":"p","type":"quantitative","scale":{"domain":[3.19,5.5],"nice":false,"zero":false},"axis":null},"text":{"field":"t"}}},
{"data":{"values":[{"i":26.7,"p":3.718,"t":"www.chnmoney.com"}]},"mark":{"type":"text","clip":true,"font":"DejaVu Sans","fontSize":17.4,"fontWeight":"bold","color":"#ffff00","stroke":"#8a7000","strokeWidth":0.5,"align":"left","baseline":"middle"},"encoding":{"x":{"field":"i","type":"quantitative","scale":{"domain":[-0.527,129.46],"nice":false,"zero":false,"padding":0},"axis":null},"y":{"field":"p","type":"quantitative","scale":{"domain":[3.19,5.5],"nice":false,"zero":false},"axis":null},"text":{"field":"t"}}},
{"data":{"values":[{"i":11.12}]},"mark":{"type":"circle","clip":true,"size":130,"color":"#6a6a6a","opacity":1},"encoding":{"x":{"field":"i","type":"quantitative","scale":{"domain":[-0.527,129.46],"nice":false,"zero":false,"padding":0},"axis":null},"y":{"datum":5.44,"type":"quantitative","scale":{"domain":[3.19,5.5],"nice":false,"zero":false},"axis":null}}},
{"data":{"values":[{"i":11.12}]},"mark":{"type":"point","clip":true,"shape":"M-0.7,-0.25L0,0.4L0.7,-0.25","size":70,"stroke":"#e0e0e0","strokeWidth":1.5,"opacity":1,"fill":null},"encoding":{"x":{"field":"i","type":"quantitative","scale":{"domain":[-0.527,129.46],"nice":false,"zero":false,"padding":0},"axis":null},"y":{"datum":5.44,"type":"quantitative","scale":{"domain":[3.19,5.5],"nice":false,"zero":false},"axis":null}}},
{"data":{"values":[{"i":128.96}]},"mark":{"type":"point","clip":true,"shape":"diamond","size":50,"stroke":"#606060","strokeWidth":1,"opacity":1},"encoding":{"x":{"field":"i","type":"quantitative","scale":{"domain":[-0.527,129.46],"nice":false,"zero":false,"padding":0},"axis":null},"y":{"datum":5.44,"type":"quantitative","scale":{"domain":[3.19,5.5],"nice":false,"zero":false},"axis":null}}}
]},
{"width":1060,"height":118,"resolve":{"scale":{"color":"independent","fill":"independent","stroke":"independent"}},"layer":[
{"data":{"name":"grid2"},"mark":{"type":"rule","clip":true,"color":"#8a0000","strokeDash":[1,4],"strokeWidth":1},"encoding":{"y":{"field":"v","type":"quantitative","scale":{"domain":[-5000,880000],"nice":false,"zero":false},"axis":null}}},
{"data":{"name":"bars"},"mark":{"type":"bar","size":6,"strokeWidth":1,"clip":true},"encoding":{"x":{"field":"i","type":"quantitative","scale":{"domain":[-0.527,129.46],"nice":false,"zero":false,"padding":0},"axis":null},"y":{"field":"vol","type":"quantitative","scale":{"domain":[-5000,880000],"nice":false,"zero":false},"axis":null},"y2":{"datum":0},"fill":{"field":"vk","type":"nominal","legend":null,"scale":{"domain":["up","down"],"range":["#000000","#54ffff"]}},"stroke":{"field":"vk","type":"nominal","legend":null,"scale":{"domain":["up","down"],"range":["#ff3232","#54ffff"]}}}},
{"data":{"name":"bars"},"mark":{"type":"line","clip":true,"color":"#ffff00","strokeWidth":1},"encoding":{"x":{"field":"i","type":"quantitative","scale":{"domain":[-0.527,129.46],"nice":false,"zero":false,"padding":0},"axis":null},"y":{"field":"m5","type":"quantitative","scale":{"domain":[-5000,880000],"nice":false,"zero":false},"axis":null}}},
{"data":{"name":"bars"},"mark":{"type":"line","clip":true,"color":"#ff00ff","strokeWidth":1},"encoding":{"x":{"field":"i","type":"quantitative","scale":{"domain":[-0.527,129.46],"nice":false,"zero":false,"padding":0},"axis":null},"y":{"field":"m10","type":"quantitative","scale":{"domain":[-5000,880000],"nice":false,"zero":false},"axis":null}}},
{"data":{"values":[{"v":-1800}]},"mark":{"type":"rule","clip":true,"color":"#c00000","strokeWidth":1.5},"encoding":{"y":{"field":"v","type":"quantitative","scale":{"domain":[-5000,880000],"nice":false,"zero":false},"axis":null}}},
{"data":{"values":[{"i":0.45}]},"mark":{"type":"circle","clip":true,"size":130,"color":"#6a6a6a","opacity":1},"encoding":{"x":{"field":"i","type":"quantitative","scale":{"domain":[-0.527,129.46],"nice":false,"zero":false,"padding":0},"axis":null},"y":{"datum":817500,"type":"quantitative","scale":{"domain":[-5000,880000],"nice":false,"zero":false},"axis":null}}},
{"data":{"values":[{"i":0.45}]},"mark":{"type":"point","clip":true,"shape":"M-0.7,-0.25L0,0.4L0.7,-0.25","size":70,"stroke":"#e0e0e0","strokeWidth":1.5,"opacity":1,"fill":null},"encoding":{"x":{"field":"i","type":"quantitative","scale":{"domain":[-0.527,129.46],"nice":false,"zero":false,"padding":0},"axis":null},"y":{"datum":817500,"type":"quantitative","scale":{"domain":[-5000,880000],"nice":false,"zero":false},"axis":null}}},
{"data":{"name":"notes2"},"mark":{"type":"text","clip":true,"font":"Liberation Sans, Noto Sans CJK SC","fontSize":12,"align":"left","baseline":"middle"},"encoding":{"x":{"field":"i","type":"quantitative","scale":{"domain":[-0.527,129.46],"nice":false,"zero":false,"padding":0},"axis":null},"y":{"datum":817500,"type":"quantitative","scale":{"domain":[-5000,880000],"nice":false,"zero":false},"axis":null},"text":{"field":"t"},"color":{"field":"c","type":"nominal","legend":null,"scale":{"domain":["gray","white","yellow","magenta"],"range":["#c0c0c0","#ffffff","#ffff00","#ff00ff"]}}}}
]},
{"width":1060,"height":111,"resolve":{"scale":{"color":"independent","fill":"independent","stroke":"independent"}},"layer":[
{"data":{"values":[{"m":0.166}]},"mark":{"type":"rule","clip":true,"color":"#8a0000","strokeDash":[1,4],"strokeWidth":1},"encoding":{"y":{"field":"m","type":"quantitative","scale":{"domain":[-0.294,0.372],"nice":false,"zero":false},"axis":null}}},
{"data":{"name":"bars"},"mark":{"type":"rule","strokeWidth":1,"clip":true},"encoding":{"x":{"field":"i","type":"quantitative","scale":{"domain":[-0.527,129.46],"nice":false,"zero":false},"axis":null},"y":{"field":"dea","type":"quantitative","scale":{"domain":[-0.294,0.372],"nice":false,"zero":false},"axis":null},"y2":{"datum":0},"color":{"condition":{"test":"datum.dea>=0","value":"#ff3232"},"value":"#54ffff"}}},
{"data":{"values":[{"m":0}]},"mark":{"type":"rule","clip":true,"color":"#00ff00","strokeWidth":2},"encoding":{"y":{"field":"m","type":"quantitative","scale":{"domain":[-0.294,0.372],"nice":false,"zero":false},"axis":null}}},
{"data":{"name":"bars"},"transform":[{"window":[{"op":"lead","field":"i","as":"i2"},{"op":"lead","field":"dea","as":"dea2"}],"sort":[{"field":"i"}]},{"filter":"isValid(datum.i2)"}],"mark":{"type":"rule","clip":true,"strokeWidth":2.5},"encoding":{"x":{"field":"i","type":"quantitative","scale":{"domain":[-0.527,129.46],"nice":false,"zero":false},"axis":null},"x2":{"field":"i2"},"y":{"field":"dea","type":"quantitative","scale":{"domain":[-0.294,0.372],"nice":false,"zero":false},"axis":null},"y2":{"field":"dea2"},"color":{"condition":{"test":"datum.bull==1","value":"#ff00ff"},"value":"#00ff00"}}},
{"data":{"name":"bars"},"transform":[{"window":[{"op":"lead","field":"i","as":"i2"},{"op":"lead","field":"dif","as":"dif2"}],"sort":[{"field":"i"}]},{"filter":"isValid(datum.i2)"}],"mark":{"type":"rule","clip":true,"strokeWidth":2.5},"encoding":{"x":{"field":"i","type":"quantitative","scale":{"domain":[-0.527,129.46],"nice":false,"zero":false},"axis":null},"x2":{"field":"i2"},"y":{"field":"dif","type":"quantitative","scale":{"domain":[-0.294,0.372],"nice":false,"zero":false},"axis":null},"y2":{"field":"dif2"},"color":{"condition":{"test":"datum.bull==1","value":"#ff0000"},"value":"#00ff00"}}},
{"data":{"name":"gems"},"mark":{"type":"point","clip":true,"filled":true,"opacity":1,"shape":"M-1,-0.4L-0.6,-0.85L0.6,-0.85L1,-0.4L0,1Z","size":225},"encoding":{"x":{"field":"i","type":"quantitative","scale":{"domain":[-0.527,129.46],"nice":false,"zero":false},"axis":null},"y":{"field":"m","type":"quantitative","scale":{"domain":[-0.294,0.372],"nice":false,"zero":false},"axis":null},"color":{"field":"kind","type":"nominal","legend":null,"scale":{"domain":["blue","red"],"range":["#4a90e8","#ee4a50"]}}}},
{"data":{"name":"gems"},"mark":{"type":"point","clip":true,"filled":true,"opacity":1,"shape":"M-1,-0.4L-0.6,-0.85L0.6,-0.85L1,-0.4L0.5,-0.2L-0.5,-0.2Z","size":225},"encoding":{"x":{"field":"i","type":"quantitative","scale":{"domain":[-0.527,129.46],"nice":false,"zero":false},"axis":null},"y":{"field":"m","type":"quantitative","scale":{"domain":[-0.294,0.372],"nice":false,"zero":false},"axis":null},"fill":{"field":"kind","type":"nominal","legend":null,"scale":{"domain":["blue","red"],"range":["#a8d8ff","#ffb0a8"]}}}},
{"data":{"values":[{"m":-0.279}]},"mark":{"type":"rule","clip":true,"color":"#c00000","strokeWidth":1.5},"encoding":{"y":{"field":"m","type":"quantitative","scale":{"domain":[-0.294,0.372],"nice":false,"zero":false},"axis":null}}},
{"data":{"values":[{"i":7.08,"i2":16.52}]},"mark":{"type":"rect","clip":true,"color":"#000090"},"encoding":{"x":{"field":"i","type":"quantitative","scale":{"domain":[-0.527,129.46],"nice":false,"zero":false},"axis":null},"x2":{"field":"i2"},"y":{"datum":-0.281,"type":"quantitative","scale":{"domain":[-0.294,0.372],"nice":false,"zero":false},"axis":null},"y2":{"datum":-0.294}}},
{"data":{"name":"ticks"},"mark":{"type":"rule","clip":true,"color":"#c00000","strokeWidth":1},"encoding":{"x":{"field":"i","type":"quantitative","scale":{"domain":[-0.527,129.46],"nice":false,"zero":false},"axis":null},"y":{"datum":-0.279,"type":"quantitative","scale":{"domain":[-0.294,0.372],"nice":false,"zero":false},"axis":null},"y2":{"datum":-0.294}}},
{"data":{"values":[{"i":0.45}]},"mark":{"type":"circle","clip":true,"size":130,"color":"#6a6a6a","opacity":1},"encoding":{"x":{"field":"i","type":"quantitative","scale":{"domain":[-0.527,129.46],"nice":false,"zero":false},"axis":null},"y":{"datum":0.32,"type":"quantitative","scale":{"domain":[-0.294,0.372],"nice":false,"zero":false},"axis":null}}},
{"data":{"values":[{"i":0.45}]},"mark":{"type":"point","clip":true,"shape":"M-0.7,-0.25L0,0.4L0.7,-0.25","size":70,"stroke":"#e0e0e0","strokeWidth":1.5,"opacity":1,"fill":null},"encoding":{"x":{"field":"i","type":"quantitative","scale":{"domain":[-0.527,129.46],"nice":false,"zero":false},"axis":null},"y":{"datum":0.32,"type":"quantitative","scale":{"domain":[-0.294,0.372],"nice":false,"zero":false},"axis":null}}},
{"data":{"name":"notes3"},"mark":{"type":"text","clip":true,"font":"Liberation Sans, Noto Sans CJK SC","fontSize":12,"align":"left","baseline":"middle"},"encoding":{"x":{"field":"i","type":"quantitative","scale":{"domain":[-0.527,129.46],"nice":false,"zero":false},"axis":null},"y":{"datum":0.32,"type":"quantitative","scale":{"domain":[-0.294,0.372],"nice":false,"zero":false},"axis":null},"text":{"field":"t"},"color":{"field":"c","type":"nominal","legend":null,"scale":{"domain":["gray","white","yellow","magenta","green","red"],"range":["#c0c0c0","#ffffff","#ffff00","#ff00ff","#00ff00","#ff0000"]}}}}
]}
]}
